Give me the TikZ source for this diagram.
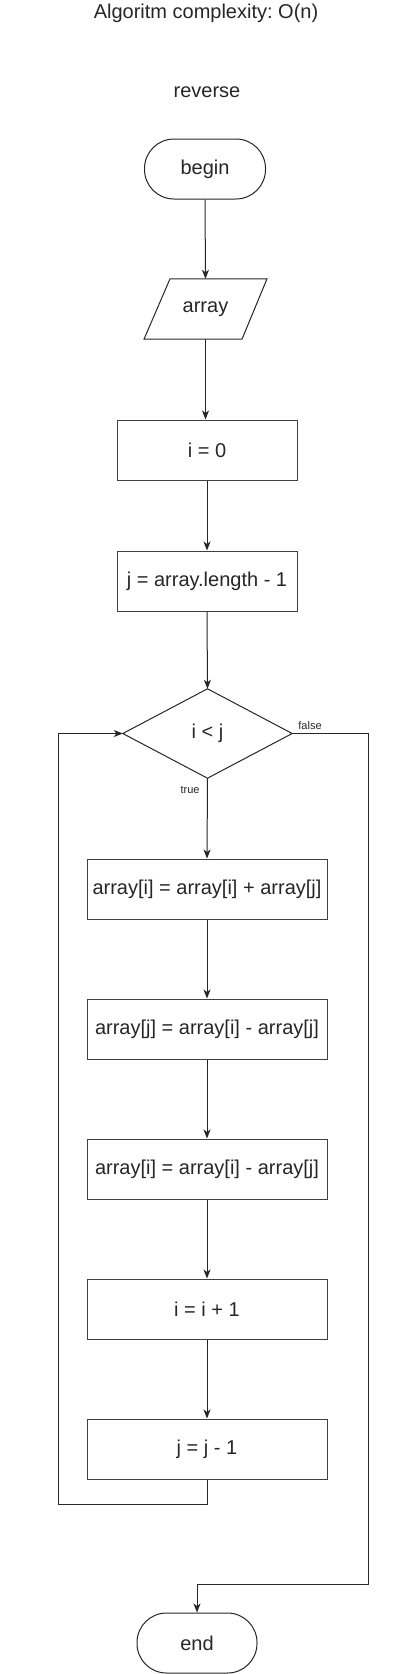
\documentclass[tikz,border=0pt]{standalone}
\usepackage{fontspec}
\setmainfont{Liberation Sans}
\usetikzlibrary{arrows.meta}
\frenchspacing
\tikzset{
  txt/.style={font=\fontsize{20}{24}\selectfont, text=black!85},
  small/.style={font=\fontsize{11}{13}\selectfont, text=black!85},
  procbox/.style={draw=black!75, line width=1pt, rectangle, minimum height=60pt, inner sep=0pt, txt},
  termbox/.style={draw=black!85, line width=1pt, rectangle, rounded corners=29.5pt, minimum height=60pt, minimum width=120pt, inner sep=0pt, txt},
  ghost/.style={rectangle, inner sep=0pt, txt},
  conn/.style={draw=black!85, line width=1pt},
  arr/.style={conn, -{Stealth[length=9pt,width=7pt,inset=2.5pt]}}
}
\begin{document}
\begin{tikzpicture}[x=1pt,y=-1pt]
\useasboundingbox (0,0) rectangle (411,1674);
\node[txt] (title) at (206,13) {Algoritm complexity: O(n)};
\node[txt] (rev) at (207,92) {reverse};
\node[termbox, minimum width=121pt] (begin) at (205,169) {begin};
\node[ghost, minimum width=123pt, minimum height=60pt] (inp) at (205.5,309) {array};
\draw[draw=black!85, line width=1pt] ([xshift=-35.5pt]inp.north) -- ([xshift=61.5pt]inp.north) -- ([xshift=36.5pt]inp.south) -- ([xshift=-61.5pt]inp.south) -- cycle;
\node[procbox, minimum width=180pt] (i0) at (207,450) {i = 0};
\node[procbox, minimum width=180pt] (jl) at (207,581) {j = array.length - 1};
\node[ghost, minimum width=169pt, minimum height=89pt] (d) at (207.5,733.5) {i < j};
\draw[draw=black!85, line width=1pt] (d.north) -- (d.east) -- (d.south) -- (d.west) -- cycle;
\node[procbox, minimum width=240pt] (b1) at (207,889) {array[i] = array[i] + array[j]};
\node[procbox, minimum width=240pt] (b2) at (207,1029) {array[j] = array[i] - array[j]};
\node[procbox, minimum width=240pt] (b3) at (207,1169) {array[i] = array[i] - array[j]};
\node[procbox, minimum width=240pt] (b4) at (207,1309) {i = i + 1};
\node[procbox, minimum width=240pt] (b5) at (207,1449) {j = j - 1};
\node[termbox] (end) at (197,1643) {end};
\coordinate (lb) at (58,1504);
\coordinate (rb) at (368,1584);
\draw[arr] (begin.south) -- (inp.north);
\draw[arr] (inp.south) -- (inp.south |- i0.north);
\draw[arr] (i0.south) -- (jl.north);
\draw[arr] (jl.south) -- (d.north);
\draw[arr] (d.south) -- node[small, pos=0.15, left=4pt] {true} (b1.north);
\draw[arr] (b1.south) -- (b2.north);
\draw[arr] (b2.south) -- (b3.north);
\draw[arr] (b3.south) -- (b4.north);
\draw[arr] (b4.south) -- (b5.north);
\draw[arr] (b5.south) |- (lb) |- (d.west);
\draw[arr] (d.east) -| (rb) -| (end.north);
\node[small] (fl) at (310,726) {false};
\end{tikzpicture}
\end{document}
